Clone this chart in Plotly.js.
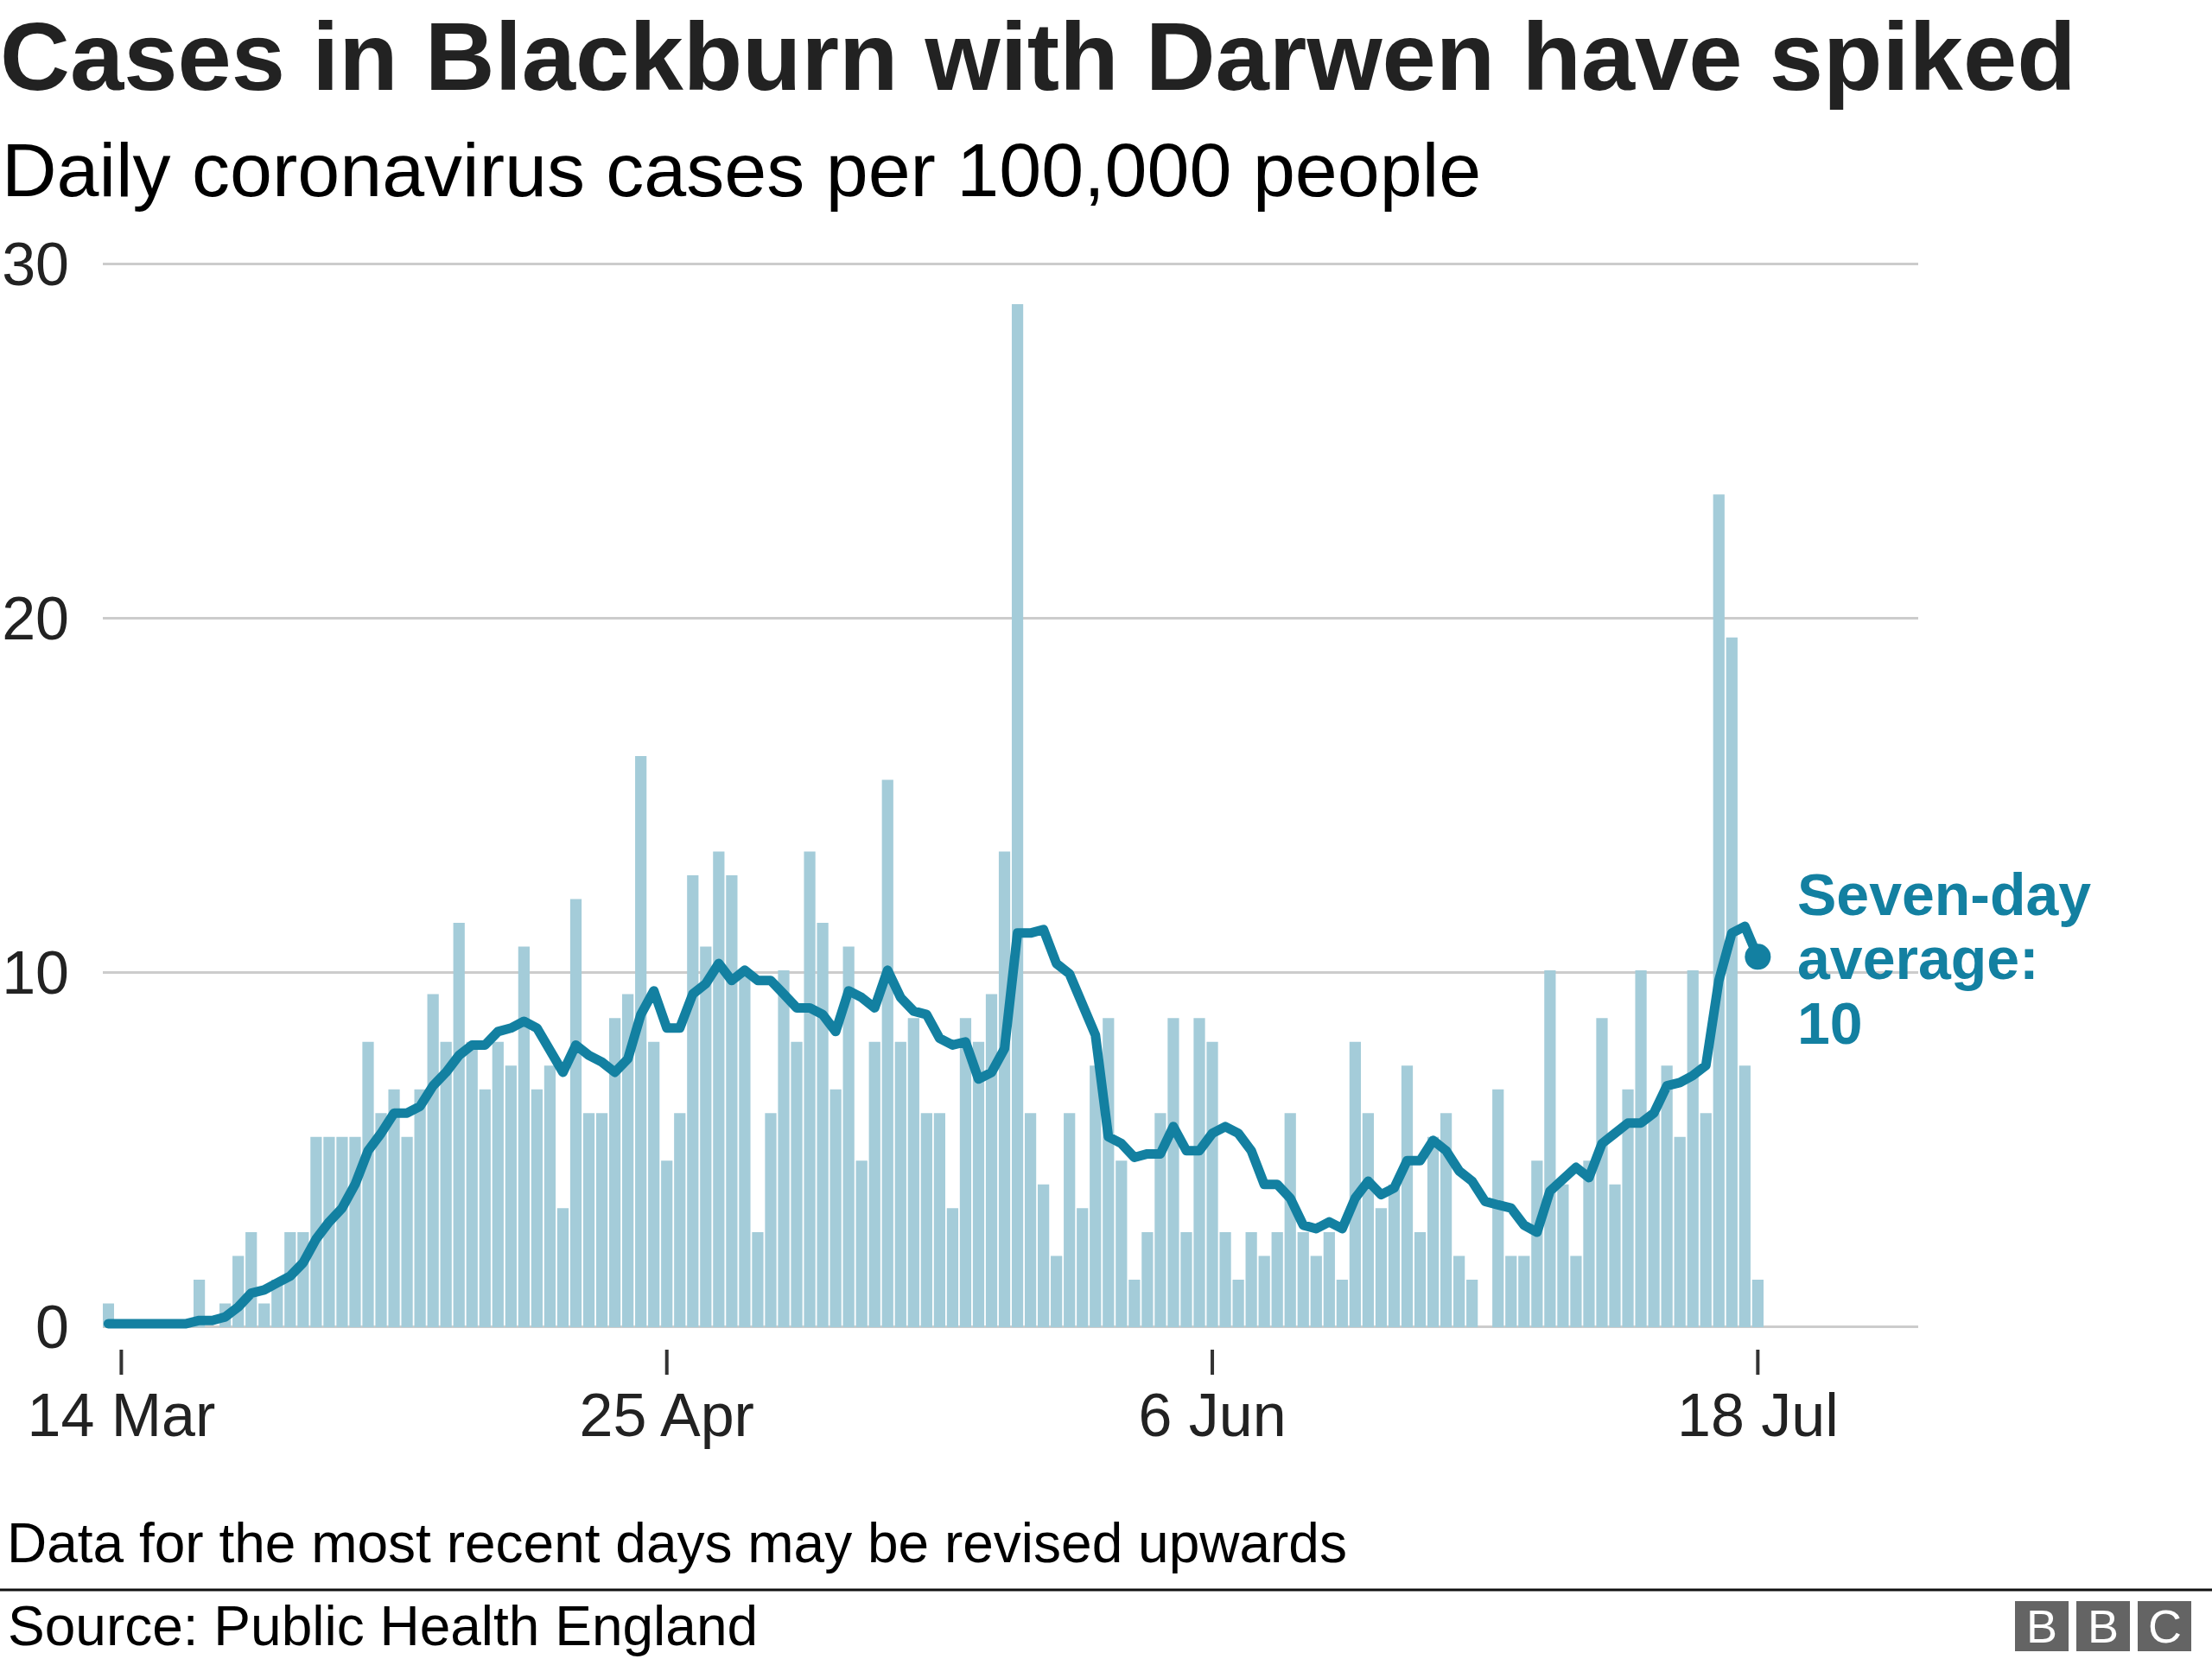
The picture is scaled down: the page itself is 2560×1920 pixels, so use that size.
<!DOCTYPE html>
<html>
<head>
<meta charset="utf-8">
<script src="https://cdn.plot.ly/plotly-3.0.1.min.js"></script>
<style>
  html, body { margin: 0; padding: 0; background: #ffffff; }
  #chart { width: 2560px; height: 1920px; }
  .scatterlayer .js-line { stroke-linejoin: round; stroke-linecap: round; }
</style>
</head>
<body>
<div id="chart"></div>
<script>
// ---------------- DATA ----------------
const DATES = [
  '2020-03-13','2020-03-14','2020-03-15','2020-03-16','2020-03-17','2020-03-18','2020-03-19','2020-03-20',
  '2020-03-21','2020-03-22','2020-03-23','2020-03-24','2020-03-25','2020-03-26','2020-03-27','2020-03-28',
  '2020-03-29','2020-03-30','2020-03-31',
  '2020-04-01','2020-04-02','2020-04-03','2020-04-04','2020-04-05','2020-04-06','2020-04-07','2020-04-08',
  '2020-04-09','2020-04-10','2020-04-11','2020-04-12','2020-04-13','2020-04-14','2020-04-15','2020-04-16',
  '2020-04-17','2020-04-18','2020-04-19','2020-04-20','2020-04-21','2020-04-22','2020-04-23','2020-04-24',
  '2020-04-25','2020-04-26','2020-04-27','2020-04-28','2020-04-29','2020-04-30',
  '2020-05-01','2020-05-02','2020-05-03','2020-05-04','2020-05-05','2020-05-06','2020-05-07','2020-05-08',
  '2020-05-09','2020-05-10','2020-05-11','2020-05-12','2020-05-13','2020-05-14','2020-05-15','2020-05-16',
  '2020-05-17','2020-05-18','2020-05-19','2020-05-20','2020-05-21','2020-05-22','2020-05-23','2020-05-24',
  '2020-05-25','2020-05-26','2020-05-27','2020-05-28','2020-05-29','2020-05-30','2020-05-31',
  '2020-06-01','2020-06-02','2020-06-03','2020-06-04','2020-06-05','2020-06-06','2020-06-07','2020-06-08',
  '2020-06-09','2020-06-10','2020-06-11','2020-06-12','2020-06-13','2020-06-14','2020-06-15','2020-06-16',
  '2020-06-17','2020-06-18','2020-06-19','2020-06-20','2020-06-21','2020-06-22','2020-06-23','2020-06-24',
  '2020-06-25','2020-06-26','2020-06-27','2020-06-28','2020-06-29','2020-06-30',
  '2020-07-01','2020-07-02','2020-07-03','2020-07-04','2020-07-05','2020-07-06','2020-07-07','2020-07-08',
  '2020-07-09','2020-07-10','2020-07-11','2020-07-12','2020-07-13','2020-07-14','2020-07-15','2020-07-16',
  '2020-07-17','2020-07-18'
];

// Daily cases per 100,000 people
const DAILY_CASES = [
  0.67, 0, 0, 0, 0, 0, 0, 1.34, 0, 0.67, 2.01, 2.68, 0.67, 1.34, 2.68, 2.68,
  5.37, 5.37, 5.37, 5.37, 8.05, 6.04, 6.71, 5.37, 6.71, 9.40, 8.05, 11.41, 8.05, 6.71, 8.05, 7.38,
  10.74, 6.71, 7.38, 3.36, 12.08, 6.04, 6.04, 8.72, 9.40, 16.11, 8.05, 4.70, 6.04, 12.75, 10.74, 13.42,
  12.75, 10.07, 2.68, 6.04, 10.07, 8.05, 13.42, 11.41, 6.71, 10.74, 4.70, 8.05, 15.44, 8.05, 8.72, 6.04,
  6.04, 3.36, 8.72, 8.05, 9.40, 13.42, 28.86, 6.04, 4.03, 2.01, 6.04, 3.36, 7.38, 8.72, 4.70, 1.34,
  2.68, 6.04, 8.72, 2.68, 8.72, 8.05, 2.68, 1.34, 2.68, 2.01, 2.68, 6.04, 2.68, 2.01, 2.68, 1.34,
  8.05, 6.04, 3.36, 4.03, 7.38, 2.68, 5.37, 6.04, 2.01, 1.34, 0, 6.71, 2.01, 2.01, 4.70, 10.07,
  4.03, 2.01, 4.70, 8.72, 4.03, 6.71, 10.07, 6.04, 7.38, 5.37, 10.07, 6.04, 23.49, 19.46, 7.38, 1.34
];

// Seven-day average (as drawn)
const SEVEN_DAY_AVG = [
  0.10, 0.10, 0.10, 0.10, 0.10, 0.10, 0.10, 0.19, 0.19, 0.29, 0.57, 0.96, 1.05, 1.25, 1.44, 1.82,
  2.49, 2.97, 3.36, 4.03, 4.98, 5.47, 6.04, 6.04, 6.23, 6.81, 7.19, 7.67, 7.96, 7.96, 8.34, 8.44,
  8.63, 8.44, 7.86, 7.19, 7.96, 7.67, 7.48, 7.19, 7.57, 8.82, 9.49, 8.44, 8.44, 9.40, 9.69, 10.26,
  9.78, 10.07, 9.78, 9.78, 9.40, 9.01, 9.01, 8.82, 8.34, 9.49, 9.30, 9.01, 10.07, 9.30, 8.92, 8.82,
  8.15, 7.96, 8.05, 7.00, 7.19, 7.86, 11.12, 11.12, 11.22, 10.26, 9.97, 9.11, 8.24, 5.37, 5.18, 4.79,
  4.89, 4.89, 5.66, 4.98, 4.98, 5.47, 5.66, 5.47, 4.98, 4.03, 4.03, 3.64, 2.88, 2.78, 2.97, 2.78,
  3.64, 4.12, 3.74, 3.93, 4.70, 4.70, 5.27, 4.98, 4.41, 4.12, 3.55, 3.45, 3.36, 2.88, 2.68, 3.84,
  4.22, 4.51, 4.22, 5.18, 5.47, 5.76, 5.76, 6.04, 6.81, 6.90, 7.10, 7.38, 9.78, 11.12, 11.31, 10.45
];

const X_TICK_DATES  = ['2020-03-14', '2020-04-25', '2020-06-06', '2020-07-18'];
const X_TICK_LABELS = ['14 Mar', '25 Apr', '6 Jun', '18 Jul'];
const Y_TICKS = [0, 10, 20, 30];
const AVG_LABEL_LINES = ['Seven-day', 'average:', '10'];

// ---------------- LAYOUT HELPERS ----------------
const W = 2560, H = 1920;
const M = { l: 119, r: 340, t: 292.7, b: 358 };
const plotW = W - M.l - M.r;
const plotH = H - M.t - M.b;
const px = x => (x - M.l) / plotW;          // pixel x -> paper
const py = y => (H - M.b - y) / plotH;      // pixel y -> paper

const FONT = 'Liberation Sans, Arial, Helvetica, sans-serif';
const TEXT = '#222222';
const TEAL = '#1380a1';
const BAR = '#a4ccd9';

const traces = [
  {
    type: 'bar', x: DATES, y: DAILY_CASES,
    marker: { color: BAR, line: { width: 0 } },
    hoverinfo: 'skip'
  },
  {
    type: 'scatter', mode: 'lines', x: DATES, y: SEVEN_DAY_AVG,
    line: { color: TEAL, width: 11, shape: 'linear' },
    hoverinfo: 'skip'
  },
  {
    type: 'scatter', mode: 'markers',
    x: [DATES[DATES.length - 1]], y: [SEVEN_DAY_AVG[SEVEN_DAY_AVG.length - 1]],
    marker: { color: TEAL, size: 30 },
    cliponaxis: false, hoverinfo: 'skip'
  }
];

const annotations = [
  { text: 'Daily coronavirus cases per 100,000 people', x: px(0), y: py(145), xanchor: 'left', yanchor: 'top',
    font: { family: FONT, size: 88, color: '#000000' } },
  { text: 'Data for the most recent days may be revised upwards', x: px(6), y: py(1748), xanchor: 'left', yanchor: 'top',
    font: { family: FONT, size: 64, color: '#000000' } },
  { text: 'Source: Public Health England', x: px(8), y: py(1845), xanchor: 'left', yanchor: 'top',
    font: { family: FONT, size: 64, color: '#000000' }, borderpad: 0 }
];
const avgTops = [995, 1069, 1144];
AVG_LABEL_LINES.forEach((t, i) => {
  annotations.push({ text: '<b>' + t + '</b>', x: px(2078), y: py(avgTops[i]), xanchor: 'left', yanchor: 'top',
    font: { family: FONT, size: 68, color: TEAL } });
});

const shapes = [
  { type: 'line', xref: 'paper', yref: 'paper', x0: px(0), x1: px(W), y0: py(1840), y1: py(1840),
    line: { color: '#111111', width: 3 } }
];
// x-axis tick marks
X_TICK_DATES.forEach(d => {
  shapes.push({ type: 'line', xref: 'x', yref: 'paper', x0: d, x1: d, y0: py(1562), y1: py(1591),
    line: { color: '#333333', width: 4 } });
});
// BBC blocks
const bbcX = [2332, 2403, 2474];
const bbcLetters = ['B', 'B', 'C'];
bbcX.forEach((bx, i) => {
  shapes.push({ type: 'rect', xref: 'paper', yref: 'paper', x0: px(bx), x1: px(bx + 62), y0: py(1853), y1: py(1911),
    fillcolor: '#646464', line: { width: 0 } });
  annotations.push({ text: bbcLetters[i], x: px(bx + 31), y: py(1882), xanchor: 'center', yanchor: 'middle',
    font: { family: FONT, size: 54, color: '#ffffff' } });
});
annotations.forEach(a => { a.xref = 'paper'; a.yref = 'paper'; a.showarrow = false; });

const layout = {
  width: W, height: H,
  margin: M,
  paper_bgcolor: '#ffffff', plot_bgcolor: '#ffffff',
  showlegend: false,
  bargap: 0.12,
  title: {
    text: '<b>Cases in Blackburn with Darwen have spiked</b>',
    font: { family: FONT, size: 112, color: TEXT },
    x: 0, xref: 'container', xanchor: 'left',
    y: 0.9865, yref: 'container', yanchor: 'top',
    pad: { t: 0, l: 0, r: 0, b: 0 }
  },
  xaxis: {
    type: 'date',
    range: ['2020-03-12 13:50', '2020-07-30 08:24'],
    tickmode: 'array', tickvals: X_TICK_DATES, ticktext: X_TICK_LABELS,
    ticks: 'outside', ticklen: 15, tickwidth: 1, tickcolor: 'rgba(0,0,0,0)',
    tickfont: { family: FONT, size: 70, color: TEXT },
    showgrid: false, zeroline: false, showline: false,
    fixedrange: true
  },
  yaxis: {
    range: [-0.634, 30.3],
    tickmode: 'array', tickvals: Y_TICKS,
    ticks: '', showline: false, zeroline: false,
    showgrid: true, gridcolor: '#cccccc', gridwidth: 3,
    tickfont: { family: FONT, size: 70, color: TEXT },
    ticklabelstandoff: 38,
    fixedrange: true
  },
  annotations: annotations,
  shapes: shapes
};

Plotly.newPlot('chart', traces, layout, { staticPlot: true, displayModeBar: false });
</script>
</body>
</html>
